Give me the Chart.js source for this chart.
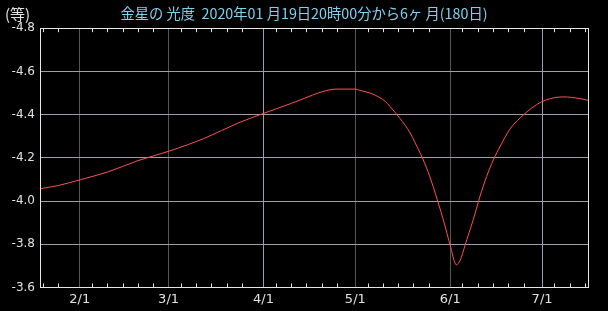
<!DOCTYPE html>
<html>
<head>
<meta charset="utf-8">
<script src="https://cdn.jsdelivr.net/npm/chart.js@4"></script>
<style>
    body { margin: 0; background: #000; }
    #wrap { width: 608px; height: 311px; position: relative; }
</style>
</head>
<body>
<div id="wrap"><canvas id="venus_graph"></canvas></div>
<script>
// days since 2020/01/19 20:00
const days = [0, 6, 13.2, 22, 32, 42.4, 53.8, 64.7, 73.1, 82.1, 86.5, 91.5, 96.7, 103, 104.5, 107.8,
    111.1, 112.7, 114.3, 116, 117.6, 119.2, 120.9, 122.5, 124.9, 127.4, 129.9, 132, 133.9, 136,
    137.2, 139.4, 141.5, 143.7, 145.9, 148.1, 150.3, 153.5, 156.8, 159, 162.2, 165.5, 170.9, 176.4, 179];
const magnitude = [-4.057, -4.072, -4.099, -4.134, -4.187, -4.232, -4.291, -4.361, -4.406, -4.452, -4.476,
    -4.503, -4.518, -4.518, -4.512, -4.500,
    -4.478, -4.462, -4.438, -4.410, -4.382, -4.352, -4.315, -4.270, -4.200, -4.110, -4.000, -3.900, -3.800, -3.705,
    -3.725, -3.821, -3.913, -4.021, -4.114, -4.191, -4.253, -4.333, -4.384, -4.412, -4.446, -4.469, -4.482, -4.474, -4.466];
const monthLabels = ['2/1', '3/1', '4/1', '5/1', '6/1', '7/1'];
const monthDays = [13, 42, 73, 103, 134, 164];
const minorTickDays = [1, 6, 17, 22, 27, 32, 37, 46, 51, 56, 61, 66, 77, 82, 87, 92, 97,
    107, 112, 117, 122, 127, 138, 143, 148, 153, 158, 168, 173, 178];
const yTicks = [-4.8, -4.6, -4.4, -4.2, -4.0, -3.8, -3.6];

const frame = {
    id: 'frame',
    afterDraw(chart) {
        const ctx = chart.ctx;
        const a = chart.chartArea;
        const x = chart.scales.x;
        ctx.save();
        ctx.strokeStyle = '#e6e6e6';
        ctx.lineWidth = 1;
        ctx.beginPath();
        minorTickDays.forEach(function (d) {
            const px = Math.round(x.getPixelForValue(d)) + 0.5;
            ctx.moveTo(px, a.bottom);
            ctx.lineTo(px, a.bottom - 4);
            ctx.moveTo(px, a.top);
            ctx.lineTo(px, a.top + 4);
        });
        ctx.stroke();
        ctx.strokeRect(Math.round(a.left) + 0.5, Math.round(a.top) + 0.5,
            Math.round(a.right - a.left), Math.round(a.bottom - a.top));
        ctx.fillStyle = '#e0e0e0';
        ctx.font = '15px "Noto Sans CJK JP"';
        ctx.textBaseline = 'middle';
        ctx.fillText('(等)', 5, 14);
        ctx.restore();
    }
};

new Chart(document.getElementById('venus_graph'), {
    type: 'line',
    data: {
        datasets: [{
            label: '光度',
            data: days.map(function (d, i) { return {x: d, y: magnitude[i]}; }),
            borderColor: '#ff4f4f',
            borderWidth: 1,
            pointRadius: 0,
            cubicInterpolationMode: 'monotone'
        }]
    },
    options: {
        responsive: true,
        maintainAspectRatio: false,
        animation: false,
        layout: {padding: 0},
        plugins: {
            legend: {display: false},
            tooltip: {enabled: false},
            title: {
                display: true,
                text: '金星の 光度  2020年01 月19日20時00分から6ヶ 月(180日)',
                color: '#7ed2ee',
                font: {family: '"Noto Sans CJK JP"', size: 14.3, weight: 'normal', lineHeight: 1.2},
                padding: {top: 5, bottom: 6}
            }
        },
        scales: {
            x: {
                type: 'linear',
                min: 0,
                max: 179,
                afterBuildTicks: function (scale) {
                    scale.ticks = monthDays.map(function (d) { return {value: d}; });
                },
                afterFit: function (scale) { scale.height = 23.5; },
                grid: {
                    drawTicks: false,
                    color: function (ctx) {
                        const i = monthDays.indexOf(ctx.tick ? ctx.tick.value : -1);
                        if (i < 0) return 'rgba(0,0,0,0)';
                        const m = parseInt(monthLabels[i], 10);
                        return (m - 1) % 3 === 0 ? '#a39bab' : '#555555';
                    }
                },
                border: {display: false},
                ticks: {
                    color: '#e0e0e0',
                    padding: 4,
                    maxRotation: 0,
                    font: {family: 'DejaVu Sans', size: 13},
                    callback: function (v, i) { return monthLabels[i]; }
                }
            },
            y: {
                reverse: true,
                min: -4.8,
                max: -3.6,
                afterBuildTicks: function (scale) {
                    scale.ticks = yTicks.map(function (v) { return {value: v}; });
                },
                afterFit: function (scale) { scale.width = 40; },
                grid: {drawTicks: false, color: '#a39bab'},
                border: {display: false},
                ticks: {
                    color: '#e0e0e0',
                    padding: 5,
                    font: {family: 'DejaVu Sans', size: 12},
                    callback: function (v) { return v.toFixed(1); }
                }
            },
            yRight: {
                position: 'right',
                min: -4.8,
                max: -3.6,
                afterFit: function (scale) { scale.width = 20; },
                grid: {drawOnChartArea: false, drawTicks: false},
                border: {display: false},
                ticks: {display: false}
            }
        }
    },
    plugins: [frame]
});
</script>
</body>
</html>
